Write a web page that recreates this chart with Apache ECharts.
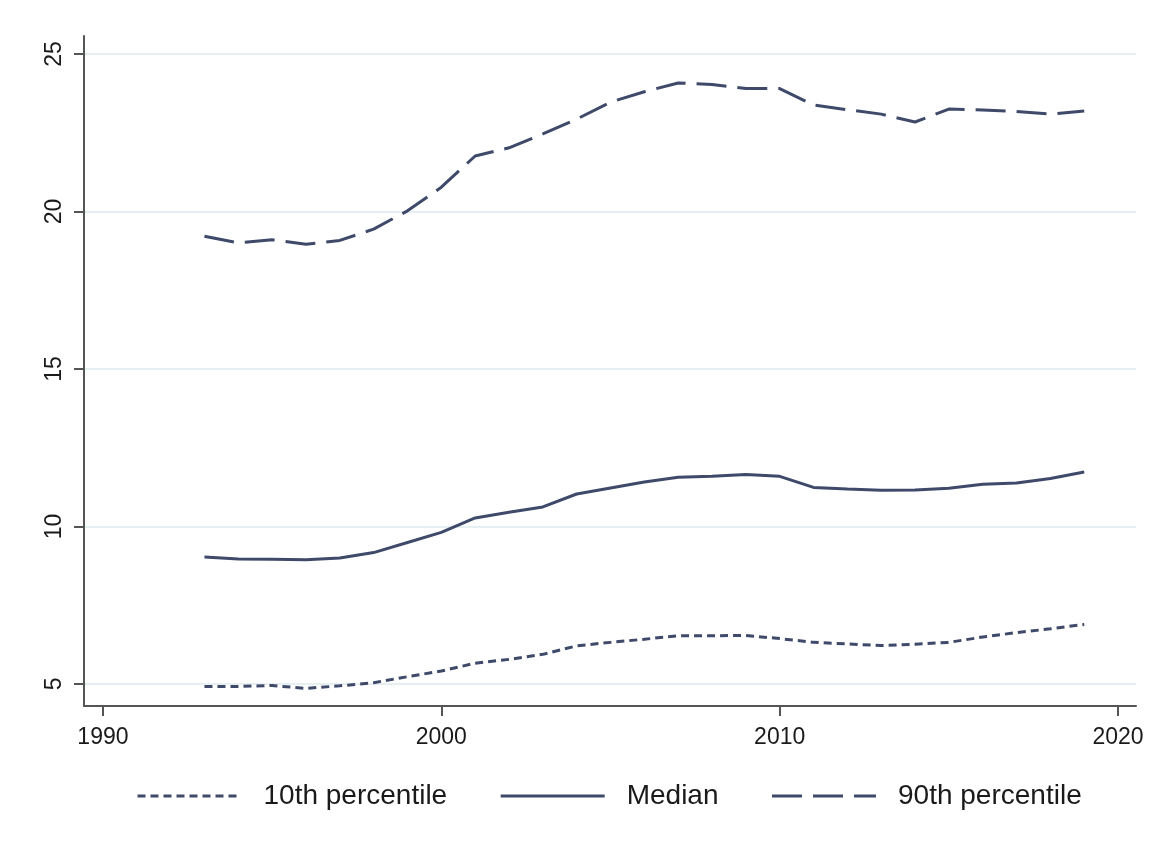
<!DOCTYPE html>
<html>
<head>
<meta charset="utf-8">
<script src="https://cdn.jsdelivr.net/npm/echarts@6/dist/echarts.min.js"></script>
<style>
html,body{margin:0;padding:0;background:#fff;}
#chart{width:1161px;height:854px;}
</style>
</head>
<body>
<div id="chart"></div>
<script>
var years = [1993,1994,1995,1996,1997,1998,1999,2000,2001,2002,2003,2004,2005,2006,2007,2008,2009,2010,2011,2012,2013,2014,2015,2016,2017,2018,2019];
var p10 = [4.92,4.92,4.95,4.86,4.94,5.04,5.23,5.41,5.66,5.78,5.94,6.21,6.32,6.42,6.53,6.53,6.54,6.44,6.32,6.27,6.22,6.26,6.32,6.49,6.63,6.75,6.89];
var median = [9.03,8.97,8.96,8.94,9.00,9.17,9.49,9.81,10.27,10.45,10.62,11.03,11.22,11.41,11.56,11.59,11.65,11.59,11.24,11.19,11.15,11.16,11.21,11.34,11.38,11.52,11.73];
var p90 = [19.21,19.00,19.10,18.96,19.08,19.44,20.02,20.77,21.76,22.02,22.46,22.93,23.47,23.80,24.08,24.03,23.90,23.90,23.38,23.23,23.09,22.84,23.25,23.22,23.17,23.09,23.19];
var seriesNames = ['10th percentile','Median','90th percentile'];
var xTicks = [1990,2000,2010,2020];
var yTicks = [5,10,15,20,25];

function pairs(vals){ return years.map(function(y,i){ return [y, vals[i]]; }); }

var lineColor = '#3f4a6a';
var font = 'Liberation Sans, Arial, sans-serif';
var chart = echarts.init(document.getElementById('chart'), null, {renderer:'canvas'});
chart.setOption({
  backgroundColor:'#ffffff',
  animation:false,
  grid:{left:84, right:25, top:36, bottom:148, containLabel:false},
  legend:{
    left:131, top:777,
    itemWidth:104, itemHeight:14, itemGap:52,
    data:seriesNames,
    itemStyle:{opacity:0},
    lineStyle:{width:3},
    textStyle:{fontFamily:font, fontSize:28, color:'#1a1a1a', padding:[0,0,0,17]}
  },
  xAxis:{
    type:'value', min:1989.44, max:2020.53,
    axisLine:{show:true, lineStyle:{color:'#555', width:2}},
    axisTick:{show:true, length:10, customValues:xTicks, lineStyle:{color:'#555', width:2}},
    axisLabel:{customValues:xTicks, margin:20, fontFamily:font, fontSize:23, color:'#1a1a1a',
      formatter:function(v){ return String(v); }},
    splitLine:{show:false}
  },
  yAxis:{
    type:'value', min:4.3, max:25.57,
    axisLine:{show:true, lineStyle:{color:'#555', width:2}},
    axisTick:{show:true, length:10, customValues:yTicks, lineStyle:{color:'#555', width:2}},
    axisLabel:{customValues:yTicks, rotate:90, margin:18, fontFamily:font, fontSize:23, color:'#1a1a1a',
      formatter:function(v){ return String(v); }},
    splitLine:{show:true, lineStyle:{color:'#e6eff1', width:2}}
  },
  series:[
    {name:seriesNames[0], type:'line', data:pairs(p10), symbol:'none', smooth:false,
     lineStyle:{color:lineColor, width:3, type:[8,5]}, itemStyle:{color:lineColor}},
    {name:seriesNames[1], type:'line', data:pairs(median), symbol:'none', smooth:false,
     lineStyle:{color:lineColor, width:3, type:'solid'}, itemStyle:{color:lineColor}},
    {name:seriesNames[2], type:'line', data:pairs(p90), symbol:'none', smooth:false,
     lineStyle:{color:lineColor, width:3, type:[30,11]}, itemStyle:{color:lineColor}}
  ]
});
</script>
</body>
</html>
